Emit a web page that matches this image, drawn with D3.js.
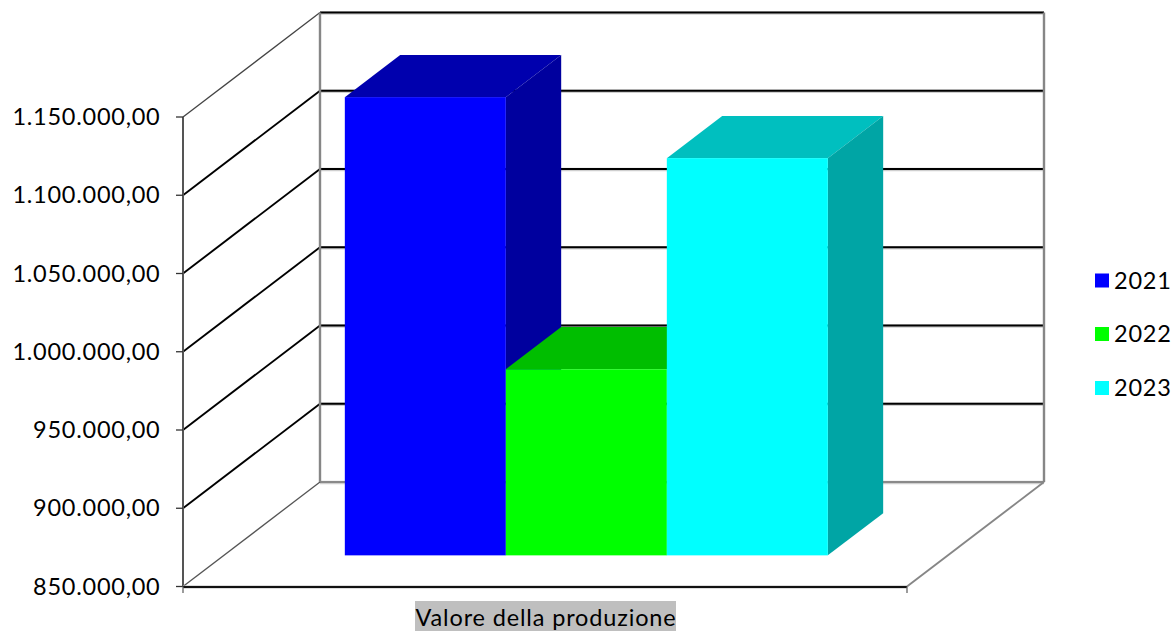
<!DOCTYPE html>
<html><head><meta charset="utf-8">
<script src="https://cdn.jsdelivr.net/npm/d3@7"></script>
<style>html,body{margin:0;padding:0;background:#fff}svg{display:block}text{font-family:Lato,"Open Sans",sans-serif;fill:#000}</style>
</head><body><svg id="c" width="1175" height="631"></svg>
<script>
const category = "Valore della produzione";
const seriesNames = ["2021","2022","2023"];
const seriesValues = [1142800, 968900, 1103800];
const tickValues = [850000,900000,950000,1000000,1050000,1100000,1150000];
const frontColors = ["#0000ff","#00ff00","#00ffff"];
const topColors = ["#0000ae","#00be00","#00bfbf"];
const sideColors = ["#00009e","#00a000","#00a5a5"];

const svg = d3.select("#c");
const loc = d3.formatLocale({decimal:",",thousands:".",grouping:[3],currency:["€",""]});
const fmt = loc.format(",.2f");
const y = d3.scaleLinear().domain([850000,1150000]).range([586.5,117]);
const x = d3.scaleLinear().domain([0,1]).range([183,907]);
const depthX = d3.scaleLinear().domain([0,1]).range([0,137]);
const depthY = d3.scaleLinear().domain([0,1]).range([0,-104.5]);
const barX = d3.scaleBand().domain(seriesNames).range([x(121/724),x(604/724)]).padding(0);
const d0 = 0.298, d1 = 0.702;
const P = (xv,yv,d)=>[xv+depthX(d), yv+depthY(d)];
const poly = pts => "M"+pts.map(p=>p.join(",")).join("L")+"Z";
const line = (a,b,stroke,w)=>svg.append("line").attr("x1",a[0]).attr("y1",a[1]).attr("x2",b[0]).attr("y2",b[1]).attr("stroke",stroke).attr("stroke-width",w);

const xL=x(0), xR=x(1), yB=y(850000), yT=y(1150000);
// back and left walls
tickValues.forEach((t,i)=>{
  const isBase=i===0, isTop=i===tickValues.length-1;
  line(P(xL,y(t),1),P(xR,y(t),1),"#cfcfcf",3.4).attr("transform","translate(0,0.5)");
  line(P(xL,y(t),1),P(xR,y(t),1),isBase?"#8a8a8a":"#000",isBase?2.2:2);
  if(i>0) line(P(xL,y(t),0),P(xL,y(t),1),isTop?"#444":"#000",isTop?1.3:1.9);
});
line(P(xL,yB,0),P(xL,yB,1),"#555",1.3);
line(P(xL,yT,1),P(xL,yB,1),"#868686",2.4);
line(P(xR,yT,1),P(xR,yB,1),"#868686",2.4);
line(P(xR,yB,0),P(xR,yB,1),"#868686",1.9);
// axes
line([xL,yT],[xL,yB],"#555",2);
line([xL,yB+0.5],[xR,yB+0.5],"#bbb",3);
line([xL,yB+0.5],[xR,yB+0.5],"#111",2);
tickValues.forEach(t=>line([176,y(t)],[xL,y(t)],"#333",1.3));
[0,1].forEach(v=>line([x(v),yB],[x(v),yB+6.5],"#666",1.3));
// tick labels
svg.append("g").selectAll("text").data(tickValues).join("text")
  .attr("x",160.5).attr("y",t=>y(t)+8).attr("text-anchor","end")
  .attr("font-size",23.5).attr("letter-spacing",0.75).text(t=>fmt(t));
// bars
seriesNames.forEach((s,i)=>{
  const xa=barX(s), xb=xa+barX.bandwidth(), v=seriesValues[i];
  const yFront=t=>y(t)+depthY(d0);
  const yb=yFront(850000), yt=yFront(v);
  const ax=xa+depthX(d0), bx=xb+depthX(d0), dd=d1-d0;
  svg.append("path").attr("fill",topColors[i]).attr("d",poly([[ax,yt],[bx,yt],[bx+depthX(dd),yt+depthY(dd)],[ax+depthX(dd),yt+depthY(dd)]]));
  svg.append("path").attr("fill",sideColors[i]).attr("d",poly([[bx,yt],[bx+depthX(dd),yt+depthY(dd)],[bx+depthX(dd),yb+depthY(dd)],[bx,yb]]));
  svg.append("rect").attr("fill",frontColors[i]).attr("x",ax).attr("y",yt).attr("width",barX.bandwidth()).attr("height",yb-yt);
});
// legend
const legY=[280.5,334,388];
seriesNames.forEach((s,i)=>{
  svg.append("rect").attr("x",1095).attr("y",legY[i]-7).attr("width",14).attr("height",14).attr("fill",frontColors[i]);
  svg.append("text").attr("x",1114).attr("y",legY[i]+8).attr("font-size",23.5).attr("letter-spacing",0.8).text(s);
});
// category label
svg.append("rect").attr("x",415).attr("y",601).attr("width",261).attr("height",30).attr("fill","#bfbfbf");
svg.append("text").attr("x",415.5).attr("y",625.5).attr("font-size",23.5).attr("letter-spacing",0.85).text(category);
</script></body></html>
